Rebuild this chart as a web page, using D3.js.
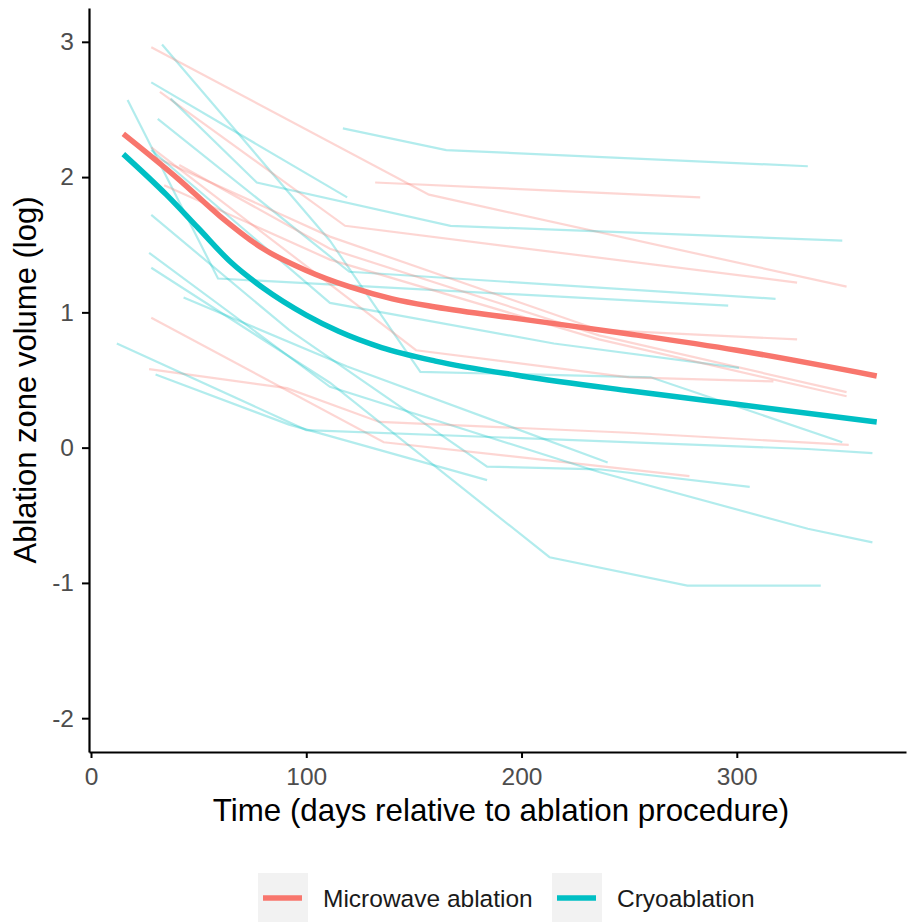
<!DOCTYPE html>
<html>
<head>
<meta charset="utf-8">
<script src="https://cdn.jsdelivr.net/npm/d3@7"></script>
<style>
  body { margin: 0; background: #fff; }
  svg text { font-family: "Liberation Sans", Arial, sans-serif; }
</style>
</head>
<body>
<div id="chart"></div>
<script>
// Ablation zone volume (log) over time, per patient + smoothed trend per group

const groups = ["Microwave ablation", "Cryoablation"];
const groupColors = ["#F8766D", "#00BFC4"];

// per-patient follow-up, microwave ablation
const mwaDays = [
  [28, 157, 351],
  [132, 283],
  [32, 118, 328],
  [28, 111, 236, 328],
  [28, 151, 250, 317],
  [41, 111, 236, 351],
  [34, 111, 236, 351],
  [28, 136, 278],
  [27, 91, 134, 250, 352]
];
const mwaVol = [
  [2.96, 1.87, 1.19],
  [1.96, 1.85],
  [2.63, 1.64, 1.22],
  [2.16, 1.56, 0.87, 0.80],
  [2.22, 0.72, 0.52, 0.49],
  [2.09, 1.47, 0.83, 0.41],
  [1.94, 1.39, 0.80, 0.38],
  [0.96, 0.04, -0.21],
  [0.58, 0.44, 0.19, 0.11, 0.02]
];

// per-patient follow-up, cryoablation
const cryoDays = [
  [33, 111, 153, 260, 349],
  [28, 119],
  [17, 59, 296],
  [31, 120, 318],
  [37, 77, 167, 349],
  [117, 165, 333],
  [28, 111, 215, 301],
  [28, 92, 184, 236, 306],
  [27, 111, 236, 333, 363],
  [28, 111, 213, 277, 339],
  [43, 119, 240],
  [12, 100, 333, 363],
  [30, 92, 184]
];
const cryoVol = [
  [2.98, 1.53, 0.56, 0.52, 0.04],
  [2.70, 1.85],
  [2.57, 1.25, 1.05],
  [2.43, 1.30, 1.10],
  [2.58, 1.96, 1.64, 1.53],
  [2.36, 2.20, 2.08],
  [2.20, 1.07, 0.77, 0.59],
  [1.72, 0.87, -0.14, -0.16, -0.29],
  [1.44, 0.45, -0.18, -0.60, -0.70],
  [1.33, 0.48, -0.81, -1.02, -1.02],
  [1.11, 0.60, -0.11],
  [0.77, 0.13, -0.01, -0.04],
  [0.54, 0.17, -0.24]
];

// smoothed group trends
const mwaFitDays = [15, 41, 60, 80, 100, 120, 140, 160, 200, 250, 300, 365];
const mwaFitVol = [2.32, 1.98, 1.71, 1.47, 1.31, 1.19, 1.10, 1.04, 0.95, 0.84, 0.72, 0.53];
const cryoFitDays = [15, 35, 50, 65, 80, 100, 115, 135, 160, 200, 250, 300, 365];
const cryoFitVol = [2.17, 1.87, 1.62, 1.37, 1.18, 0.98, 0.86, 0.74, 0.64, 0.53, 0.42, 0.32, 0.19];

const xTicks = [0, 100, 200, 300];
const yTicks = [-2, -1, 0, 1, 2, 3];

const W = 908, H = 922;
const svg = d3.select("#chart").append("svg")
  .attr("width", W)
  .attr("height", H);

// panel edges
const pL = 89, pR = 906, pT = 8, pB = 752;

const x = d3.scaleLinear().domain([-0.93, 378.6]).range([pL, pR]);
const y = d3.scaleLinear().domain([-2.25, 3.25]).range([pB, pT]);

const line = d3.line()
  .x(d => x(d[0]))
  .y(d => y(d[1]));

const smooth = d3.line()
  .curve(d3.curveMonotoneX)
  .x(d => x(d[0]))
  .y(d => y(d[1]));

const zip = (a, b) => a.map((v, i) => [v, b[i]]);

// interleave patients so that colours overlap like in the original
const thin = [];
const n = Math.max(mwaDays.length, cryoDays.length);
for (let i = 0; i < n; i++) {
  if (i < cryoDays.length) thin.push({ g: 1, pts: zip(cryoDays[i], cryoVol[i]) });
  if (i < mwaDays.length) thin.push({ g: 0, pts: zip(mwaDays[i], mwaVol[i]) });
}

svg.append("g").selectAll("path")
  .data(thin)
  .enter()
  .append("path")
  .attr("d", d => line(d.pts))
  .attr("fill", "none")
  .attr("stroke", d => groupColors[d.g])
  .attr("stroke-opacity", 0.3)
  .attr("stroke-width", 2.2);

// trend lines
const fits = [zip(mwaFitDays, mwaFitVol), zip(cryoFitDays, cryoFitVol)];
svg.append("g").selectAll("path")
  .data(fits)
  .enter()
  .append("path")
  .attr("d", d => smooth(d))
  .attr("fill", "none")
  .attr("stroke", (d, i) => groupColors[i])
  .attr("stroke-width", 5.5);

// axes
const fmt = d => String(d);
const xAxis = svg.append("g")
  .attr("transform", `translate(0 ${pB})`)
  .call(d3.axisBottom(x).tickValues(xTicks).tickFormat(fmt)
    .tickSize(6).tickSizeOuter(0).tickPadding(9.5));

const yAxis = svg.append("g")
  .attr("transform", `translate(${pL} 0)`)
  .call(d3.axisLeft(y).tickValues(yTicks).tickFormat(fmt)
    .tickSize(7).tickSizeOuter(0).tickPadding(8));

[xAxis, yAxis].forEach(a => {
  a.select(".domain").attr("stroke", "#000").attr("stroke-width", 2.2);
  a.selectAll(".tick line").attr("stroke", "#000").attr("stroke-width", 2);
  a.selectAll(".tick text")
    .attr("fill", "#4D4D4D")
    .style("font-size", "24.5px")
    .style("font-family", "'Liberation Sans', Arial, sans-serif");
});

// axis titles
svg.append("text")
  .attr("x", 501)
  .attr("y", 821)
  .attr("text-anchor", "middle")
  .style("font-size", "31.3px")
  .attr("fill", "#000")
  .text("Time (days relative to ablation procedure)");

svg.append("text")
  .attr("transform", `translate(36 ${(pT + pB) / 2}) rotate(-90)`)
  .attr("text-anchor", "middle")
  .style("font-size", "31px")
  .attr("fill", "#000")
  .text("Ablation zone volume (log)");

// legend
const legX = [258, 552];
const leg = svg.append("g").selectAll("g")
  .data(groups)
  .enter()
  .append("g")
  .attr("transform", (d, i) => `translate(${legX[i]} 873)`);

leg.append("rect")
  .attr("width", 50)
  .attr("height", 50)
  .attr("fill", "#F2F2F2");

leg.append("line")
  .attr("x1", 5).attr("x2", 44)
  .attr("y1", 25).attr("y2", 25)
  .attr("stroke", (d, i) => groupColors[i])
  .attr("stroke-width", 5.5);

leg.append("text")
  .attr("x", 65)
  .attr("y", 34)
  .style("font-size", "24.5px")
  .attr("fill", "#1a1a1a")
  .text(d => d);
</script>
</body>
</html>
